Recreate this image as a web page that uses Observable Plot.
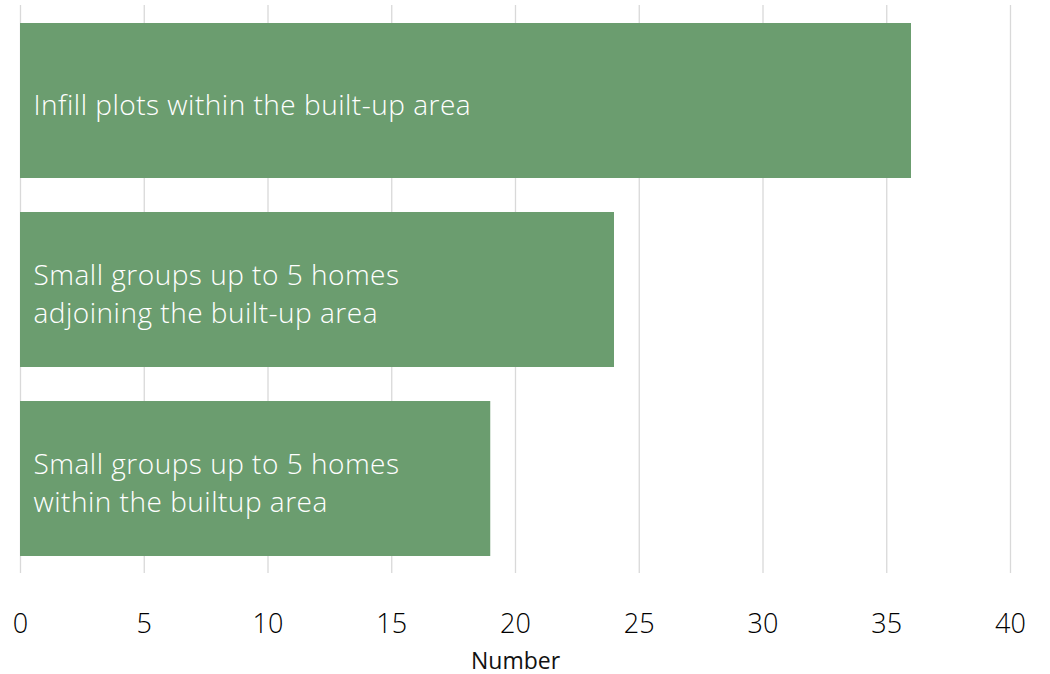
<!DOCTYPE html>
<html>
<head>
<meta charset="utf-8">
<script src="https://cdn.jsdelivr.net/npm/d3@7"></script>
<script src="https://cdn.jsdelivr.net/npm/@observablehq/plot@0.6"></script>
<style>
  html, body { margin: 0; padding: 0; background: #fff; }
  #chart svg { display: block; }
</style>
</head>
<body>
<div id="chart"></div>
<script>
const categories = [
  "Infill plots within the built-up area",
  "Small groups up to 5 homes\nadjoining the built-up area",
  "Small groups up to 5 homes\nwithin the builtup area"
];
const values = [36, 24, 19];
const xTicks = [0, 5, 10, 15, 20, 25, 30, 35, 40];
const axisLabel = "Number";

const data = categories.map((c, i) => ({category: c, value: values[i]}));
const font = "'Open Sans', 'Segoe UI', sans-serif";

const chart = Plot.plot({
  width: 1050,
  height: 674,
  marginLeft: 20,
  marginRight: 40,
  marginTop: 5,
  marginBottom: 101,
  style: {fontFamily: font, background: "#fff"},
  x: {domain: [0, 40], ticks: xTicks},
  y: {domain: categories, paddingInner: 0.182, paddingOuter: 0.091, axis: null},
  marks: [
    Plot.gridX(xTicks, {stroke: "#d9d9d9", strokeOpacity: 1, strokeWidth: 1.3}),
    Plot.barX(data, {x: "value", y: "category", fill: "#6b9d6f"}),
    Plot.text(data, {
      x: 0, y: "category", text: "category",
      textAnchor: "start", dx: 13, dy: 2, fill: "#fff",
      fontSize: 28, fontWeight: 300, lineHeight: 1.33,
      className: "barlabel"
    }),
    Plot.axisX(xTicks, {
      tickSize: 0, tickPadding: 40, fontSize: 27, fontWeight: 300,
      fill: "#000", label: null, tickFormat: d => String(d)
    }),
    Plot.text([axisLabel], {
      frameAnchor: "bottom", text: d => d, dy: 95,
      fontSize: 23, fill: "#111", fontWeight: 400
    })
  ]
});
chart.querySelectorAll(".barlabel text").forEach(t => t.setAttribute("letter-spacing", "0.5"));
document.getElementById("chart").appendChild(chart);
</script>
</body>
</html>
